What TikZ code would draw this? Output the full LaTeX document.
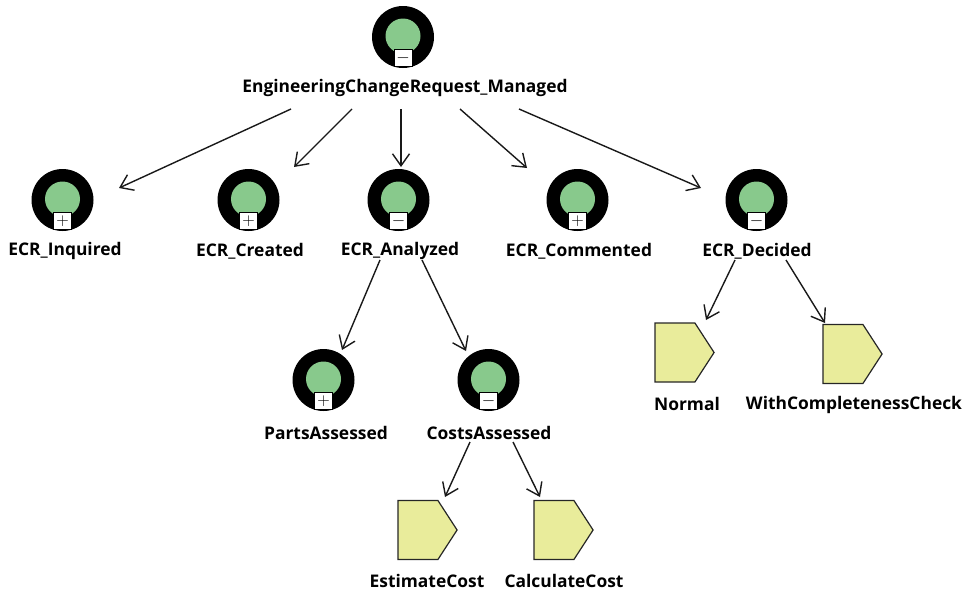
\documentclass[tikz,border=0pt]{standalone}
\usepackage{fontspec}
\setmainfont{Open Sans}
\usetikzlibrary{arrows.meta,shapes.symbols}
\definecolor{corefill}{HTML}{88C98C}
\definecolor{stepfill}{HTML}{E9EC9B}
\tikzset{
  ring/.style={circle,fill=black,inner sep=0pt,minimum size=62pt},
  core/.style={circle,fill=corefill,inner sep=0pt,minimum size=35pt},
  toggle/.style={draw=black,fill=white,line width=1pt,inner sep=0pt,minimum width=18pt,minimum height=17pt,font=\fontsize{17}{17}\selectfont},
  caption/.style={inner sep=0pt,font=\fontsize{17.4}{19}\selectfont\bfseries},
  stepbox/.style={signal,signal to=east,signal pointer angle=114,draw=black!85,fill=stepfill,line width=1.2pt,inner sep=0pt,outer sep=0pt,minimum width=59pt,minimum height=59pt},
  link/.style={-{Straight Barb[length=12pt,width=17pt]},line width=1.4pt,black!90}
}
\newcommand{\statenode}[5]{
  \node[ring] (#1) at (#2) {};
  \node[core] at ([yshift=1pt]#1.center) {};
  \node[toggle] at ([yshift=-21pt]#1.center) {#3};
  \node[caption] (#1label) at (#4) {#5};
}
\begin{document}
\begin{tikzpicture}[x=1pt,y=-1pt]
  \useasboundingbox (0,0) rectangle (969,589);
  \statenode{managed}{403,37}{$-$}{405,88}{EngineeringChangeRequest\_Managed}
  \statenode{inquired}{62.5,200}{$+$}{65,251}{ECR\_Inquired}
  \statenode{created}{248.5,200}{$+$}{250,251}{ECR\_Created}
  \statenode{analyzed}{398.5,200}{$-$}{400,251}{ECR\_Analyzed}
  \statenode{commented}{577.5,200}{$+$}{579,251}{ECR\_Commented}
  \statenode{decided}{756.5,200}{$-$}{757,251}{ECR\_Decided}
  \statenode{parts}{323.5,380}{$+$}{326,433}{PartsAssessed}
  \statenode{costs}{488.5,380}{$-$}{489,433}{CostsAssessed}

  \node[stepbox] (normal) at (675,352.5) {};
  \node[caption] (normallabel) at (687,404) {Normal};
  \node[stepbox] (check) at (843,354) {};
  \node[caption] (checklabel) at (854,405) {WithCompletenessCheck};
  \node[stepbox] (estimate) at (418,530) {};
  \node[caption] (estimatelabel) at (427,581) {EstimateCost};
  \node[stepbox] (calculate) at (554,530) {};
  \node[caption] (calculatelabel) at (564,581) {CalculateCost};

  \draw[link] ([shift={(-114,21)}]managedlabel.center) -- ([shift={(56.5,-12)}]inquired.center);
  \draw[link] ([shift={(-53,21)}]managedlabel.center) -- ([shift={(45.5,-33)}]created.center);
  \draw[link] ([shift={(-4,21)}]managedlabel.center) -- ([shift={(2.5,-33)}]analyzed.center);
  \draw[link] ([shift={(55,21)}]managedlabel.center) -- ([shift={(-50.5,-32)}]commented.center);
  \draw[link] ([shift={(114,21)}]managedlabel.center) -- ([shift={(-55.5,-12)}]decided.center);
  \draw[link] ([shift={(-20,9)}]analyzedlabel.center) -- ([shift={(18.5,-30)}]parts.center);
  \draw[link] ([shift={(22,9)}]analyzedlabel.center) -- ([shift={(-22.5,-29)}]costs.center);
  \draw[link] ([shift={(-22,9)}]decidedlabel.center) -- ([shift={(31,-32.5)}]normal.center);
  \draw[link] ([shift={(29,9)}]decidedlabel.center) -- ([shift={(-18,-31)}]check.center);
  \draw[link] ([shift={(-19,9)}]costslabel.center) -- ([shift={(27,-33)}]estimate.center);
  \draw[link] ([shift={(24,9)}]costslabel.center) -- ([shift={(-14,-33)}]calculate.center);
\end{tikzpicture}
\end{document}
